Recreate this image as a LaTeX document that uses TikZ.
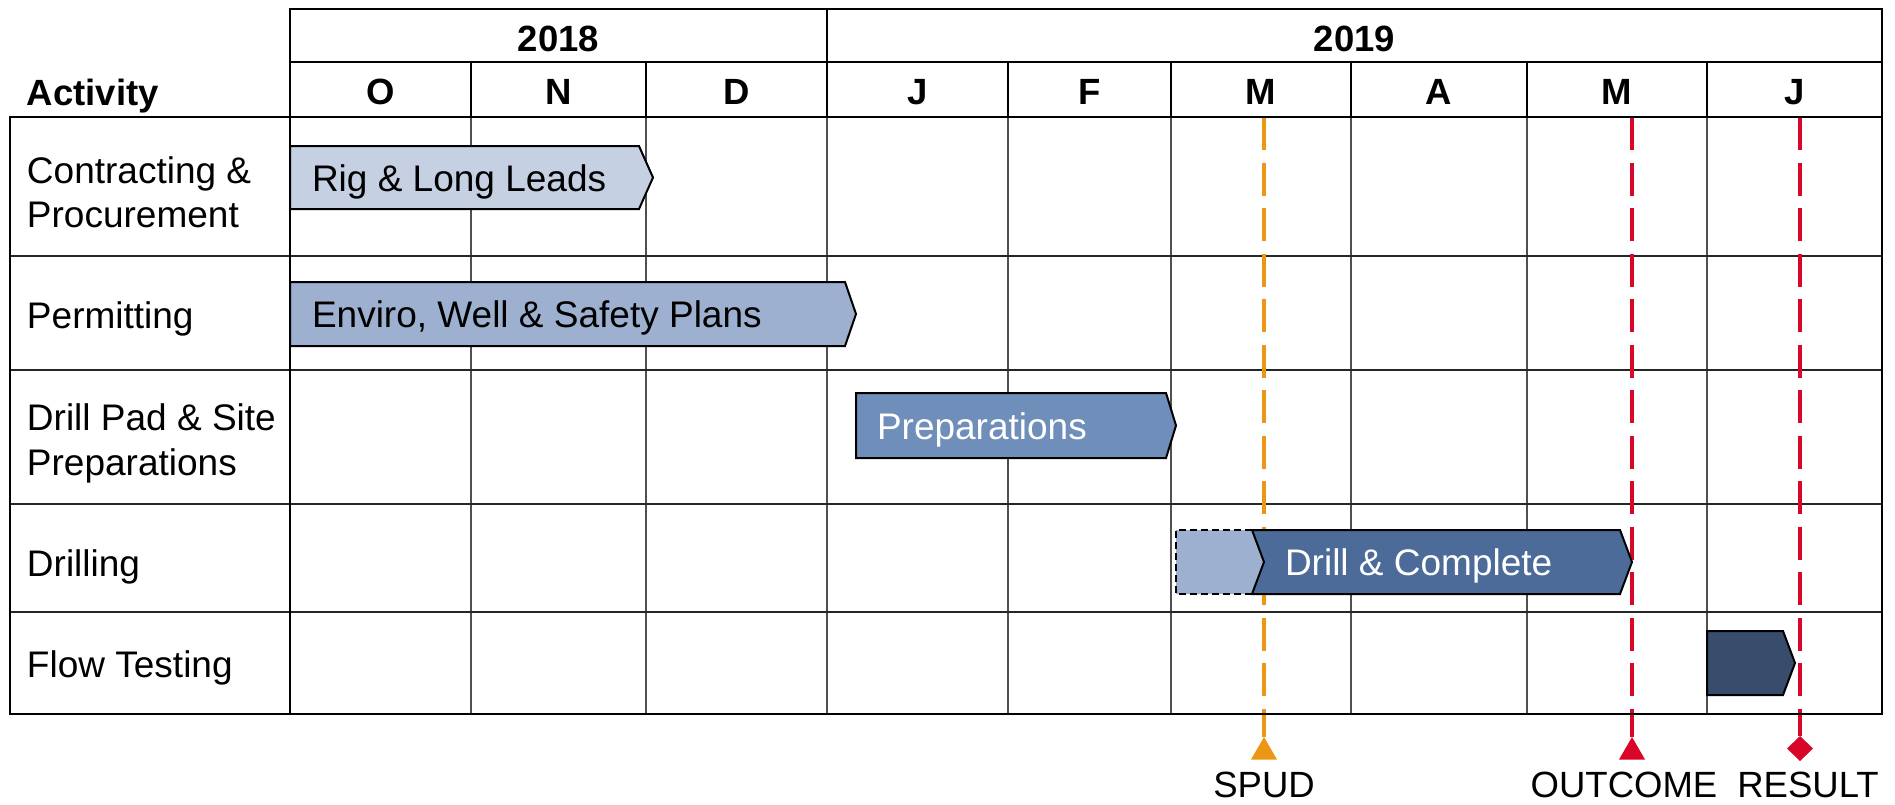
\documentclass[tikz,border=0pt]{standalone}
\usepackage{fontspec}
\setmainfont{Liberation Sans}
\usetikzlibrary{shapes.geometric}
\definecolor{barA}{RGB}{197,208,226}
\definecolor{barB}{RGB}{157,176,207}
\definecolor{barC}{RGB}{111,142,186}
\definecolor{barD}{RGB}{76,107,153}
\definecolor{barE}{RGB}{56,76,107}
\definecolor{spudc}{RGB}{237,150,22}
\definecolor{redc}{RGB}{216,6,40}
\definecolor{gridc}{RGB}{80,80,80}
\begin{document}
\begin{tikzpicture}[x=1pt,y=-1pt,
  every node/.style={inner sep=0pt, outer sep=0pt, font=\fontsize{37}{44}\selectfont},
  hdr/.style={font=\fontsize{36.5}{44}\selectfont\bfseries, anchor=base},
  rowlabel/.style={anchor=base west},
  bartext/.style={anchor=base west},
  milelabel/.style={anchor=base, font=\fontsize{36.5}{44}\selectfont},
  frame/.style={line width=2.2pt, black},
  vgrid/.style={line width=1.3pt, gridc},
  hgrid/.style={line width=1.8pt, black!85},
  barline/.style={line width=2pt, black, line join=miter},
  milestone/.style={line width=3.5pt},
  gapdash/.style={dash pattern=on 33pt off 12.5pt},
  trimark/.style={regular polygon, regular polygon sides=3, minimum size=30pt, draw=none},
  diamark/.style={diamond, minimum width=26pt, minimum height=25pt, draw=none},
]
\useasboundingbox (0,0) rectangle (1895,804);
\fill[white] (0,0) rectangle (1895,804);

% ---- body grid ----
\foreach \x in {471,646,827,1008,1171,1351,1527,1707}
  \draw[vgrid] (\x,117) -- (\x,714);
\foreach \y in {256,370,504,612}
  \draw[hgrid] (10,\y) -- (1882,\y);

% ---- milestone lines (drawn under the bars) ----
\coordinate (spudtop) at (1264,117);
\coordinate (spudmid) at (1264,714);
\coordinate (outtop) at (1632,117);
\coordinate (outmid) at (1632,714);
\coordinate (restop) at (1800,117);
\coordinate (resmid) at (1800,714);
\node[trimark, fill=spudc] (spudmk) at (1264,752) {};
\node[trimark, fill=redc] (outmk) at (1632,752) {};
\node[diamark, fill=redc] (resmk) at (1800,748.5) {};
\draw[milestone, spudc, gapdash] (spudtop) -- (spudmid);
\draw[milestone, spudc] (spudmid) -- (spudmk.north);
\draw[milestone, redc, gapdash] (outtop) -- (outmid);
\draw[milestone, redc] (outmid) -- (outmk.north);
\draw[milestone, redc, gapdash] (restop) -- (resmid);
\draw[milestone, redc] (resmid) -- (resmk.north);
\node[milelabel] (spudlbl) at (1264,797) {SPUD};
\node[milelabel] (outlbl) at (1624,797) {OUTCOME};
\node[milelabel] (reslbl) at (1808,797) {RESULT};

% ---- frames ----
\draw[frame] (290,9) rectangle (1882,117);
\draw[frame] (290,62) -- (1882,62);
\draw[frame] (827,9) -- (827,62);
\foreach \x in {471,646,827,1008,1171,1351,1527,1707}
  \draw[frame] (\x,62) -- (\x,117);
\draw[frame] (10,117) rectangle (1882,714);
\draw[frame] (290,117) -- (290,714);

% ---- header text ----
\node[hdr, anchor=base west] (act) at (27,105) {Activity};
\node[hdr] (y18) at (558.5,51) {2018};
\node[hdr] (y19) at (1354.5,51) {2019};
\node[hdr] (mO) at (380.5,104) {O};
\node[hdr] (mN) at (558.5,104) {N};
\node[hdr] (mD) at (736.5,104) {D};
\node[hdr] (mJ) at (917.5,104) {J};
\node[hdr] (mF) at (1089.5,104) {F};
\node[hdr] (mM) at (1261,104) {M};
\node[hdr] (mA) at (1439,104) {A};
\node[hdr] (mMy) at (1617,104) {M};
\node[hdr] (mJn) at (1794.5,104) {J};

% ---- activity labels ----
\node[rowlabel] (r1a) at (27,183) {Contracting \&};
\node[rowlabel] (r1b) at (27,227) {Procurement};
\node[rowlabel] (r2) at (27,328) {Permitting};
\node[rowlabel] (r3a) at (27,430) {Drill Pad \& Site};
\node[rowlabel] (r3b) at (27,475) {Preparations};
\node[rowlabel] (r4) at (27,576) {Drilling};
\node[rowlabel] (r5) at (27,677) {Flow Testing};

% ---- bars ----
\draw[barline, fill=barA] (290,146) -- (639,146) -- (653,177.5) -- (639,209) -- (290,209) -- cycle;
\node[bartext] (b1) at (312,191) {Rig \& Long Leads};

\draw[barline, fill=barB] (290,282) -- (845,282) -- (856,314) -- (845,346) -- (290,346) -- cycle;
\node[bartext] (b2) at (312,327.5) {Enviro, Well \& Safety Plans};

\draw[barline, fill=barC] (856,393) -- (1166,393) -- (1176,425.5) -- (1166,458) -- (856,458) -- cycle;
\node[bartext, text=white] (b3) at (877,439) {Preparations};

\fill[barB] (1176,530) -- (1252,530) -- (1264,562) -- (1252,594) -- (1176,594) -- cycle;
\draw[line width=2pt, black, dash pattern=on 7pt off 4pt] (1252,530) -- (1176,530) -- (1176,594) -- (1252,594);
\draw[barline, fill=barD] (1252,530) -- (1620,530) -- (1632,562) -- (1620,594) -- (1252,594) -- (1264,562) -- cycle;
\node[bartext, text=white] (b4) at (1285,575.5) {Drill \& Complete};

\draw[barline, fill=barE] (1707,631) -- (1783,631) -- (1795,663) -- (1783,695) -- (1707,695) -- cycle;
\end{tikzpicture}
\end{document}
